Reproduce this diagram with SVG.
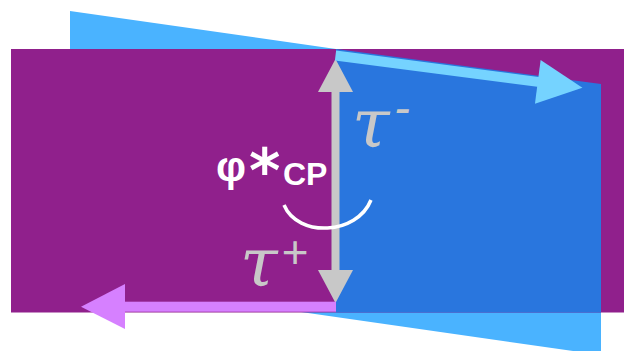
<svg xmlns="http://www.w3.org/2000/svg" width="624" height="351" viewBox="0 0 624 351">
<style>
.tau{font-family:"DejaVu Serif","Liberation Serif",serif;font-style:italic;fill:#C8C8C8}
.sup{font-family:"Liberation Sans","DejaVu Sans",sans-serif;fill:#C8C8C8}
.phi{font-family:"Liberation Sans","DejaVu Sans",sans-serif;font-weight:bold;fill:#FFFFFF}
</style>
<rect width="624" height="351" fill="#FFFFFF"/>
<g id="lightblue-plane"><polygon points="70,11 601,87 601,355 70,279" fill="#4AB3FF"/></g>
<g id="purple-plane"><rect x="11" y="49" width="613" height="263.5" fill="#90208C"/></g>
<g id="blue-plane"><polygon points="336,49 601,84 601,312.5 336,312.5" fill="#2976DE"/></g>
<g id="connectors">
  <g id="gray-arrow" fill="#C8C8C8">
    <rect x="331.5" y="90" width="8" height="182"/>
    <polygon points="335.5,59 353,92 318,92"/>
    <polygon points="335.5,303 353,270 318,270"/>
  </g>
  <g id="cyan-arrow" fill="#75D3FF" transform="translate(335.5,55.5) rotate(7.42)">
    <rect x="0" y="-5" width="206" height="10"/>
    <polygon points="204,-22 249,0 204,22"/>
  </g>
  <g id="pink-arrow" fill="#D680FF">
    <rect x="124" y="301.7" width="212" height="10"/>
    <polygon points="125,284 81,306.7 125,329"/>
  </g>
  <path id="angle-arc" d="M284,205 C298,238 357,235 371,200" fill="none" stroke="#FFFFFF" stroke-width="3.5"/>
</g>
<g id="label-tau-minus"><text class="tau" x="352" y="147" font-size="68">τ<tspan class="sup" x="394" y="124" font-size="48">-</tspan></text></g>
<g id="label-tau-plus"><text class="tau" x="240" y="286" font-size="68">τ<tspan class="sup" x="281" y="268" font-size="46">+</tspan></text></g>
<g id="label-phi"><text class="phi" x="216" y="181" font-size="42">φ<tspan x="249" y="192" font-size="60" font-family="DejaVu Sans">*</tspan><tspan x="283" y="185" font-size="32">CP</tspan></text></g>
</svg>
